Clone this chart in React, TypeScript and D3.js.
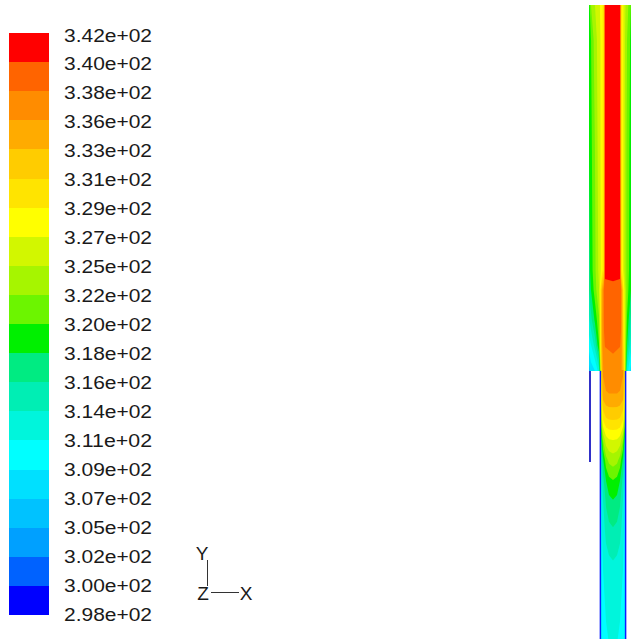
import React from "react";
import * as d3 from "d3";

const W = 631;
const H = 639;

// contour levels (K) and their printed labels, bottom to top
const LEVELS = [
  298.05, 300.26, 302.47, 304.68, 306.89, 309.1, 311.31, 313.52, 315.73, 317.94, 320.15,
  322.36, 324.57, 326.78, 328.99, 331.2, 333.41, 335.62, 337.83, 340.04, 342.25,
];
const LEVEL_LABELS = [
  "2.98e+02", "3.00e+02", "3.02e+02", "3.05e+02", "3.07e+02", "3.09e+02", "3.11e+02",
  "3.14e+02", "3.16e+02", "3.18e+02", "3.20e+02", "3.22e+02", "3.25e+02", "3.27e+02",
  "3.29e+02", "3.31e+02", "3.33e+02", "3.36e+02", "3.38e+02", "3.40e+02", "3.42e+02",
];
// one colour per band, bottom (cold) to top (hot)
const BAND_COLORS = [
  "#0000ff", "#0062ff", "#00a0ff", "#00c2ff", "#00e0ff", "#00ffff", "#00f5dc",
  "#00eeb4", "#00eb82", "#00f000", "#6cf500", "#a6f500", "#d2f700", "#ffff00",
  "#ffe400", "#ffcc00", "#ffab00", "#ff8c00", "#ff6400", "#ff0000",
];

// upper (wide) section of the pipe: stations in mm, temperatures in K
const UPPER_X = [-24, -22, -18, -14, -11, -9, -8, 0, 7, 8, 11, 14, 18, 22, 24];
const UPPER_Y = [0, 35, 145, 265, 285, 315, 340, 366];
const UPPER_T = [
  [319.0, 322.4, 324.6, 326.3, 327.9, 331.5, 341.1, 341.6, 341.1, 331.5, 325.7, 323.5, 320.1, 319.0, 319.0],
  [318.6, 320.1, 323.5, 325.7, 327.9, 331.0, 341.0, 341.6, 341.0, 331.0, 325.7, 322.4, 319.5, 318.6, 318.6],
  [318.0, 319.5, 322.4, 325.7, 327.9, 330.8, 340.8, 341.6, 340.8, 330.8, 325.7, 321.7, 319.0, 318.0, 318.0],
  [316.8, 319.0, 321.9, 325.2, 327.9, 331.0, 341.3, 341.5, 341.3, 331.0, 325.2, 321.7, 318.6, 316.8, 316.8],
  [315.7, 318.0, 321.3, 324.5, 334.0, 338.2, 338.5, 338.9, 338.5, 338.2, 327.5, 321.3, 318.0, 315.7, 315.7],
  [313.0, 315.0, 318.5, 322.0, 335.0, 338.0, 338.3, 338.6, 338.3, 338.0, 328.0, 320.0, 315.0, 312.5, 312.5],
  [310.2, 311.3, 314.5, 320.0, 335.0, 337.6, 337.9, 338.0, 337.9, 337.6, 328.5, 318.0, 312.5, 310.0, 310.0],
  [305.8, 308.0, 309.1, 312.4, 334.0, 336.5, 337.0, 337.5, 337.0, 336.5, 331.0, 312.4, 308.0, 305.8, 305.8],
];

// lower (narrow) pipe
const LOWER_X = [-13, -12, -10, -7, -4, 0, 4, 7, 10, 12, 13];
const LOWER_Y = [365, 390, 415, 435, 455, 475, 495, 525, 565, 640];
const LOWER_T = [
  [300.3, 329.0, 336.0, 337.2, 337.4, 337.5, 337.4, 337.2, 336.0, 329.0, 300.3],
  [300.3, 327.0, 334.5, 335.3, 335.5, 335.5, 335.5, 335.3, 334.5, 327.0, 300.3],
  [300.3, 322.0, 329.0, 330.8, 331.1, 331.2, 331.1, 330.8, 329.0, 322.0, 300.3],
  [300.3, 316.0, 322.5, 325.8, 326.6, 326.8, 326.6, 325.8, 322.5, 316.0, 300.3],
  [300.3, 313.0, 317.5, 321.5, 323.0, 323.5, 323.0, 321.5, 317.5, 313.0, 300.3],
  [300.3, 311.3, 315.0, 318.0, 319.6, 320.15, 319.6, 318.0, 315.0, 311.3, 300.3],
  [300.3, 310.2, 313.5, 316.2, 317.4, 317.9, 317.4, 316.2, 313.5, 310.2, 300.3],
  [300.3, 310.2, 312.4, 314.2, 315.1, 315.5, 315.1, 314.2, 312.4, 310.2, 300.3],
  [300.3, 310.2, 311.3, 312.2, 312.6, 312.9, 312.6, 312.2, 311.3, 310.2, 300.3],
  [300.3, 309.1, 310.2, 310.9, 311.3, 311.3, 311.3, 310.9, 310.2, 309.1, 300.3],
];

// model mm -> screen px
const xModel = d3.scaleLinear().domain([-24, 24]).range([589, 637]);
const yModel = d3.scaleLinear().domain([0, 366]).range([5, 371]);

// filled contour bands for one block of the field
function fieldBands(xs: number[], ys: number[], table: number[][]) {
  const nx = xs.length;
  const ny = ys.length;
  const gx = d3
    .scaleLinear()
    .domain([0, ...xs.map((_, i) => i + 0.5), nx])
    .range([xs[0], ...xs, xs[nx - 1]].map((v) => xModel(v)));
  const gy = d3
    .scaleLinear()
    .domain([0, ...ys.map((_, i) => i + 0.5), ny])
    .range([ys[0], ...ys, ys[ny - 1]].map((v) => yModel(v)));
  const proj = d3.geoTransform({
    point(x: number, y: number) {
      (this as any).stream.point(gx(x), gy(y));
    },
  });
  const path = d3.geoPath(proj);
  const contours = d3.contours().size([nx, ny]).thresholds(LEVELS.slice(0, 20));
  return contours(table.flat())
    .map((c, i) => ({ d: path(c as any), color: BAND_COLORS[i] }))
    .filter((b) => b.d);
}

const legendY = d3.scaleLinear().domain([LEVELS[0], LEVELS[20]]).range([615, 33]);
const labelY = d3.scaleLinear().domain([LEVELS[0], LEVELS[20]]).range([614.5, 35.5]);

const FONT = "'Liberation Sans', Arial, sans-serif";

export default function App() {
  const upper = fieldBands(UPPER_X, UPPER_Y, UPPER_T);
  const lower = fieldBands(LOWER_X, LOWER_Y, LOWER_T);

  return (
    <svg
      width={W}
      height={H}
      style={{ position: "absolute", left: 0, top: 0, background: "#fff" }}
    >
      {/* colour legend */}
      <g>
        {BAND_COLORS.map((c, k) => (
          <rect
            key={k}
            x={9}
            width={40}
            y={legendY(LEVELS[k + 1])}
            height={legendY(LEVELS[k]) - legendY(LEVELS[k + 1])}
            fill={c}
            shapeRendering="crispEdges"
          />
        ))}
        {LEVEL_LABELS.map((t, i) => (
          <text
            key={t}
            x={64}
            y={labelY(LEVELS[i])}
            dominantBaseline="central"
            fontFamily={FONT}
            fontSize={18}
            textLength={88}
            lengthAdjust="spacingAndGlyphs"
            fill="#1a1a1a"
          >
            {t}
          </text>
        ))}
      </g>

      {/* axis triad */}
      <g fontFamily={FONT} fontSize={19} fill="#1a1a1a" textAnchor="middle" dominantBaseline="central">
        <line x1={207.5} x2={207.5} y1={560} y2={586} stroke="#333" strokeWidth={1} />
        <line x1={211} x2={239} y1={592.5} y2={592.5} stroke="#333" strokeWidth={1} />
        <text x={202} y={553}>Y</text>
        <text x={203} y={593}>Z</text>
        <text x={246} y={593}>X</text>
      </g>

      {/* temperature contours */}
      <g>
        {upper.map((b, i) => (
          <path key={"u" + i} d={b.d as string} fill={b.color} />
        ))}
        {lower.map((b, i) => (
          <path key={"l" + i} d={b.d as string} fill={b.color} />
        ))}
        <line x1={xModel(-12.6)} x2={xModel(-12.6)} y1={yModel(366)} y2={H} stroke="#0a1eff" strokeWidth={1.5} />
        <line x1={xModel(12.6)} x2={xModel(12.6)} y1={yModel(366)} y2={H} stroke="#0a1eff" strokeWidth={1.5} />
        <line x1={xModel(-23)} x2={xModel(-23)} y1={yModel(366)} y2={yModel(457)} stroke="#3030c8" strokeWidth={2} />
      </g>
    </svg>
  );
}
